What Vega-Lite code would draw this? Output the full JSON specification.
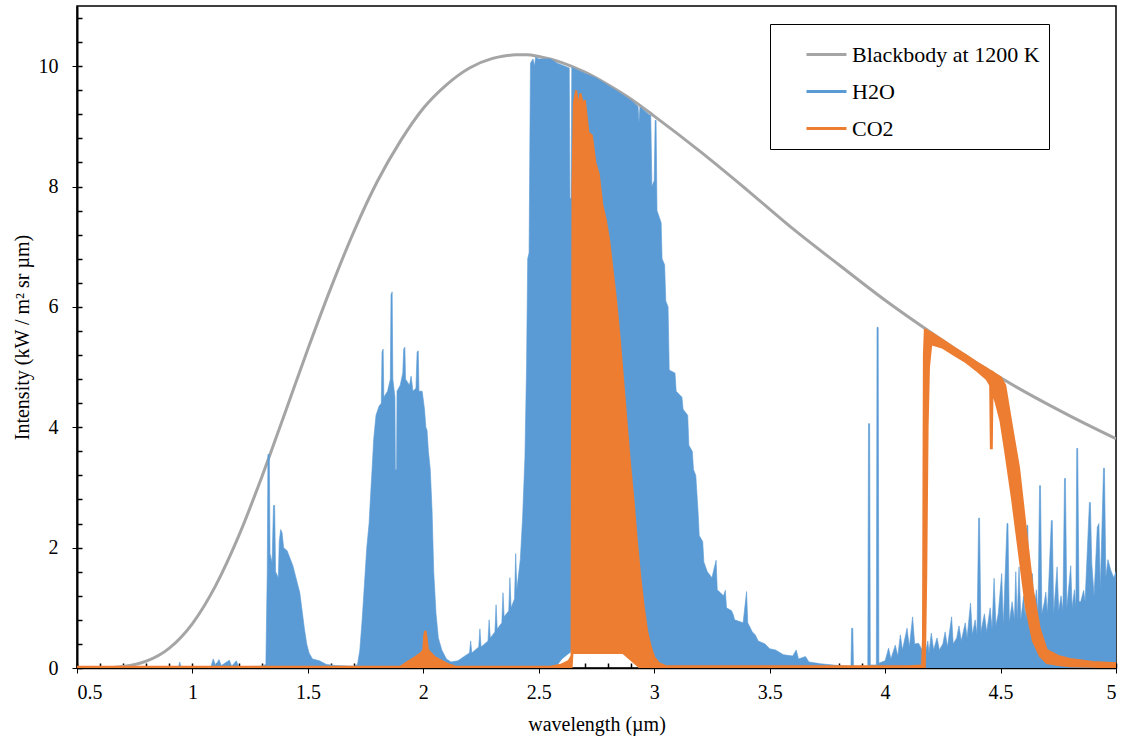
{
  "$schema": "https://vega.github.io/schema/vega-lite/v6.json",
  "width": 1039,
  "height": 662,
  "autosize": {"type": "none"},
  "padding": {"left": 77, "top": 6, "right": 6, "bottom": 74},
  "background": "white",
  "config": {
    "view": {"stroke": "black", "strokeWidth": 1.5},
    "axis": {"grid": false, "labelFont": "Liberation Serif", "titleFont": "Liberation Serif", "labelColor": "black", "titleColor": "black", "tickColor": "black", "domainColor": "black", "titleFontWeight": "normal"},
    "legend": {"labelFont": "Liberation Serif"}
  },
  "datasets": {
    "bb": [
      {"w":0.5,"v":0.0},{"w":0.6,"v":0.003},{"w":0.7,"v":0.026},{"w":0.8,"v":0.113},{"w":0.9,"v":0.331},{"w":1.0,"v":0.739},{"w":1.1,"v":1.365},{"w":1.2,"v":2.19},{"w":1.3,"v":3.17},{"w":1.4,"v":4.23},{"w":1.5,"v":5.30},{"w":1.6,"v":6.32},{"w":1.7,"v":7.26},{"w":1.8,"v":8.08},{"w":1.9,"v":8.75},{"w":2.0,"v":9.30},{"w":2.1,"v":9.69},{"w":2.2,"v":9.97},{"w":2.3,"v":10.13},{"w":2.35,"v":10.17},{"w":2.4,"v":10.19},{"w":2.45,"v":10.19},{"w":2.5,"v":10.16},{"w":2.6,"v":10.06},{"w":2.7,"v":9.90},{"w":2.8,"v":9.69},{"w":2.9,"v":9.45},{"w":3.0,"v":9.17},{"w":3.2,"v":8.58},{"w":3.4,"v":7.95},{"w":3.6,"v":7.30},{"w":3.8,"v":6.70},{"w":4.0,"v":6.11},{"w":4.2,"v":5.57},{"w":4.4,"v":5.06},{"w":4.6,"v":4.60},{"w":4.8,"v":4.19},{"w":5.0,"v":3.81}
    ],
    "h2o": [
      {"w":0.5,"h":0,"l":0},{"w":0.9,"h":0.01,"l":0},{"w":0.94,"h":0.02,"l":0},{"w":0.945,"h":0.1,"l":0},{"w":0.95,"h":0.02,"l":0},{"w":1.08,"h":0.02,"l":0},{"w":1.09,"h":0.15,"l":0},{"w":1.1,"h":0.04,"l":0},{"w":1.115,"h":0.14,"l":0},{"w":1.125,"h":0.04,"l":0},{"w":1.16,"h":0.13,"l":0},{"w":1.17,"h":0.03,"l":0},{"w":1.19,"h":0.12,"l":0},{"w":1.2,"h":0.02,"l":0},{"w":1.3,"h":0.03,"l":0},
      {"w":1.318,"h":0.06,"l":0},{"w":1.324,"h":1.6,"l":0},{"w":1.327,"h":3.55,"l":0},{"w":1.333,"h":3.55,"l":0},{"w":1.336,"h":1.9,"l":0},{"w":1.345,"h":1.75,"l":0},{"w":1.351,"h":2.7,"l":0},{"w":1.356,"h":2.7,"l":0},{"w":1.36,"h":1.6,"l":0},{"w":1.372,"h":1.5,"l":0},{"w":1.376,"h":2.1,"l":0},{"w":1.382,"h":2.3,"l":0},{"w":1.388,"h":2.25,"l":0},{"w":1.395,"h":2.0,"l":0},{"w":1.41,"h":1.95,"l":0},{"w":1.42,"h":1.85,"l":0},{"w":1.435,"h":1.7,"l":0},{"w":1.445,"h":1.55,"l":0},{"w":1.455,"h":1.4,"l":0},{"w":1.465,"h":1.25,"l":0},{"w":1.475,"h":0.95,"l":0},{"w":1.485,"h":0.65,"l":0},{"w":1.495,"h":0.4,"l":0},{"w":1.505,"h":0.25,"l":0},{"w":1.52,"h":0.15,"l":0},{"w":1.55,"h":0.12,"l":0},{"w":1.58,"h":0.06,"l":0},{"w":1.62,"h":0.04,"l":0},{"w":1.7,"h":0.03,"l":0},
      {"w":1.715,"h":0.06,"l":0},{"w":1.725,"h":0.3,"l":0},{"w":1.735,"h":0.8,"l":0},{"w":1.745,"h":1.4,"l":0},{"w":1.755,"h":2.0,"l":0},{"w":1.765,"h":2.4,"l":0},{"w":1.772,"h":2.9,"l":0},{"w":1.778,"h":3.3,"l":0},{"w":1.785,"h":3.8,"l":0},{"w":1.795,"h":4.2,"l":0},{"w":1.808,"h":4.35,"l":0},{"w":1.818,"h":4.4,"l":0},{"w":1.821,"h":5.25,"l":0},{"w":1.826,"h":5.3,"l":0},{"w":1.829,"h":4.5,"l":0},{"w":1.845,"h":4.6,"l":0},{"w":1.857,"h":4.8,"l":0},{"w":1.86,"h":6.2,"l":0},{"w":1.865,"h":6.25,"l":0},{"w":1.868,"h":4.8,"l":0},{"w":1.877,"h":4.5,"l":0},{"w":1.879,"h":3.3,"l":0},{"w":1.884,"h":3.3,"l":0},{"w":1.886,"h":4.6,"l":0},{"w":1.9,"h":4.7,"l":0},{"w":1.911,"h":4.9,"l":0},{"w":1.915,"h":5.3,"l":0},{"w":1.92,"h":5.33,"l":0},{"w":1.923,"h":4.8,"l":0},{"w":1.94,"h":4.7,"l":0},{"w":1.947,"h":4.85,"l":0},{"w":1.955,"h":4.6,"l":0},{"w":1.968,"h":4.65,"l":0},{"w":1.973,"h":5.25,"l":0},{"w":1.978,"h":5.27,"l":0},{"w":1.981,"h":4.6,"l":0},{"w":1.995,"h":4.6,"l":0},{"w":2.005,"h":4.3,"l":0},{"w":2.011,"h":4.0,"l":0},{"w":2.016,"h":3.95,"l":0},{"w":2.022,"h":3.6,"l":0},{"w":2.03,"h":3.3,"l":0},{"w":2.038,"h":2.6,"l":0},{"w":2.045,"h":1.6,"l":0},{"w":2.055,"h":0.9,"l":0},{"w":2.065,"h":0.5,"l":0},{"w":2.08,"h":0.3,"l":0},{"w":2.1,"h":0.15,"l":0},{"w":2.12,"h":0.1,"l":0},
      {"w":2.15,"h":0.12,"l":0},{"w":2.18,"h":0.2,"l":0},{"w":2.2,"h":0.25,"l":0},{"w":2.205,"h":0.45,"l":0},{"w":2.21,"h":0.25,"l":0},{"w":2.24,"h":0.35,"l":0},{"w":2.245,"h":0.65,"l":0},{"w":2.25,"h":0.35,"l":0},{"w":2.28,"h":0.45,"l":0},{"w":2.285,"h":0.8,"l":0},{"w":2.29,"h":0.5,"l":0},{"w":2.31,"h":0.6,"l":0},{"w":2.315,"h":1.05,"l":0},{"w":2.32,"h":0.65,"l":0},{"w":2.34,"h":0.75,"l":0},{"w":2.345,"h":1.25,"l":0},{"w":2.35,"h":0.85,"l":0},{"w":2.37,"h":0.95,"l":0},{"w":2.375,"h":1.5,"l":0},{"w":2.38,"h":1.0,"l":0},{"w":2.395,"h":1.15,"l":0},{"w":2.4,"h":1.9,"l":0},{"w":2.405,"h":1.3,"l":0},{"w":2.42,"h":1.8,"l":0},{"w":2.43,"h":2.5,"l":0},{"w":2.44,"h":3.5,"l":0},{"w":2.447,"h":5.0,"l":0},{"w":2.452,"h":6.8,"l":0},{"w":2.458,"h":6.9,"l":0},{"w":2.461,"h":8.5,"l":0},{"w":2.464,"h":10.05,"l":0},{"w":2.475,"h":10.12,"l":0},{"w":2.482,"h":10.0,"l":0},{"w":2.486,"h":10.15,"l":0},{"w":2.5,"h":10.12,"l":0},{"w":2.55,"h":10.12,"l":0},{"w":2.58,"h":10.05,"l":0.05},{"w":2.6,"h":10.02,"l":0.15},{"w":2.632,"h":9.97,"l":0.25},{"w":2.635,"h":7.8,"l":0.25},{"w":2.64,"h":7.8,"l":0.3},{"w":2.643,"h":9.98,"l":0.3},{"w":2.7,"h":9.88,"l":0.3},{"w":2.75,"h":9.8,"l":0.3},{"w":2.8,"h":9.68,"l":0.3},{"w":2.85,"h":9.56,"l":0.28},{"w":2.9,"h":9.43,"l":0.15},{"w":2.93,"h":9.33,"l":0.05},{"w":2.934,"h":9.05,"l":0},{"w":2.938,"h":9.32,"l":0},{"w":2.96,"h":9.25,"l":0},{"w":2.975,"h":9.2,"l":0},{"w":2.985,"h":9.18,"l":0},{"w":2.99,"h":8.0,"l":0},{"w":3.0,"h":8.1,"l":0},{"w":3.004,"h":9.1,"l":0},{"w":3.008,"h":9.1,"l":0},{"w":3.012,"h":7.6,"l":0},{"w":3.03,"h":7.4,"l":0},{"w":3.034,"h":6.8,"l":0},{"w":3.045,"h":6.7,"l":0},{"w":3.05,"h":6.1,"l":0},{"w":3.06,"h":6.0,"l":0},{"w":3.065,"h":4.95,"l":0},{"w":3.09,"h":4.9,"l":0},{"w":3.095,"h":4.6,"l":0},{"w":3.12,"h":4.5,"l":0},{"w":3.125,"h":4.3,"l":0},{"w":3.145,"h":4.2,"l":0},{"w":3.15,"h":3.7,"l":0},{"w":3.165,"h":3.6,"l":0},{"w":3.17,"h":3.3,"l":0},{"w":3.18,"h":3.2,"l":0},{"w":3.185,"h":2.9,"l":0},{"w":3.19,"h":2.59,"l":0},{"w":3.195,"h":2.2,"l":0},{"w":3.21,"h":2.1,"l":0},{"w":3.215,"h":1.76,"l":0},{"w":3.23,"h":1.6,"l":0},{"w":3.25,"h":1.5,"l":0},{"w":3.268,"h":1.79,"l":0},{"w":3.273,"h":1.3,"l":0},{"w":3.3,"h":1.2,"l":0},{"w":3.308,"h":1.29,"l":0},{"w":3.313,"h":1.0,"l":0},{"w":3.335,"h":0.95,"l":0},{"w":3.343,"h":0.88,"l":0},{"w":3.348,"h":0.8,"l":0},{"w":3.385,"h":0.75,"l":0},{"w":3.4,"h":1.27,"l":0},{"w":3.405,"h":0.75,"l":0},{"w":3.425,"h":0.6,"l":0},{"w":3.438,"h":0.55,"l":0},{"w":3.45,"h":0.45,"l":0},{"w":3.48,"h":0.4,"l":0},{"w":3.5,"h":0.32,"l":0},{"w":3.525,"h":0.3,"l":0},{"w":3.56,"h":0.22,"l":0},{"w":3.6,"h":0.2,"l":0},{"w":3.615,"h":0.3,"l":0},{"w":3.625,"h":0.15,"l":0},{"w":3.655,"h":0.19,"l":0},{"w":3.67,"h":0.1,"l":0},{"w":3.72,"h":0.07,"l":0},{"w":3.8,"h":0.04,"l":0},
      {"w":3.852,"h":0.03,"l":0},{"w":3.855,"h":0.66,"l":0},{"w":3.86,"h":0.66,"l":0},{"w":3.863,"h":0.03,"l":0},{"w":3.925,"h":0.03,"l":0},{"w":3.928,"h":4.06,"l":0},{"w":3.933,"h":4.06,"l":0},{"w":3.936,"h":0.05,"l":0},{"w":3.962,"h":0.05,"l":0},{"w":3.965,"h":5.66,"l":0},{"w":3.97,"h":5.66,"l":0},{"w":3.973,"h":0.08,"l":0},{"w":4.0,"h":0.12,"l":0},{"w":4.015,"h":0.33,"l":0},{"w":4.025,"h":0.15,"l":0},{"w":4.044,"h":0.38,"l":0},{"w":4.055,"h":0.2,"l":0},{"w":4.066,"h":0.55,"l":0},{"w":4.075,"h":0.3,"l":0},{"w":4.095,"h":0.66,"l":0},{"w":4.105,"h":0.35,"l":0},{"w":4.119,"h":0.85,"l":0},{"w":4.128,"h":0.4,"l":0},{"w":4.145,"h":0.41,"l":0},{"w":4.16,"h":0.3,"l":0},
      {"w":4.175,"h":0.25,"l":0},{"w":4.185,"h":0.45,"l":0},{"w":4.19,"h":0.25,"l":0},{"w":4.2,"h":0.58,"l":0},{"w":4.21,"h":0.3,"l":0},{"w":4.225,"h":0.5,"l":0},{"w":4.235,"h":0.3,"l":0},{"w":4.25,"h":0.4,"l":0},{"w":4.26,"h":0.6,"l":0},{"w":4.27,"h":0.35,"l":0},{"w":4.288,"h":0.85,"l":0},{"w":4.295,"h":0.4,"l":0},{"w":4.31,"h":0.5,"l":0},{"w":4.32,"h":0.7,"l":0},{"w":4.33,"h":0.45,"l":0},{"w":4.347,"h":0.75,"l":0},{"w":4.355,"h":0.5,"l":0},{"w":4.37,"h":1.08,"l":0},{"w":4.378,"h":0.55,"l":0},{"w":4.39,"h":0.8,"l":0},{"w":4.398,"h":0.55,"l":0},{"w":4.405,"h":2.49,"l":0},{"w":4.409,"h":2.49,"l":0},{"w":4.415,"h":0.6,"l":0},{"w":4.43,"h":0.9,"l":0},{"w":4.44,"h":0.6,"l":0},{"w":4.455,"h":1.0,"l":0},{"w":4.463,"h":0.65,"l":0},{"w":4.472,"h":1.49,"l":0},{"w":4.48,"h":0.7,"l":0},{"w":4.49,"h":0.9,"l":0},{"w":4.505,"h":1.57,"l":0},{"w":4.512,"h":0.7,"l":0},{"w":4.528,"h":2.4,"l":0},{"w":4.532,"h":2.4,"l":0},{"w":4.538,"h":0.75,"l":0},{"w":4.55,"h":1.1,"l":0},{"w":4.56,"h":0.8,"l":0},{"w":4.566,"h":1.6,"l":0},{"w":4.572,"h":0.8,"l":0},{"w":4.58,"h":1.68,"l":0},{"w":4.588,"h":0.8,"l":0},{"w":4.6,"h":1.2,"l":0},{"w":4.608,"h":0.8,"l":0},{"w":4.614,"h":2.37,"l":0},{"w":4.618,"h":2.37,"l":0},{"w":4.624,"h":0.85,"l":0},{"w":4.638,"h":1.57,"l":0},{"w":4.645,"h":0.9,"l":0},{"w":4.655,"h":1.3,"l":0},{"w":4.662,"h":0.9,"l":0},{"w":4.669,"h":3.03,"l":0},{"w":4.673,"h":3.03,"l":0},{"w":4.679,"h":0.9,"l":0},{"w":4.69,"h":1.1,"l":0},{"w":4.696,"h":1.26,"l":0},{"w":4.703,"h":0.9,"l":0},{"w":4.72,"h":2.45,"l":0},{"w":4.724,"h":2.45,"l":0},{"w":4.73,"h":0.9,"l":0},{"w":4.745,"h":1.68,"l":0},{"w":4.752,"h":0.95,"l":0},{"w":4.762,"h":1.2,"l":0},{"w":4.77,"h":0.95,"l":0},{"w":4.777,"h":3.15,"l":0},{"w":4.781,"h":3.15,"l":0},{"w":4.787,"h":1.0,"l":0},{"w":4.804,"h":1.7,"l":0},{"w":4.81,"h":1.0,"l":0},{"w":4.82,"h":1.3,"l":0},{"w":4.826,"h":1.0,"l":0},{"w":4.83,"h":3.65,"l":0},{"w":4.834,"h":3.65,"l":0},{"w":4.84,"h":1.1,"l":0},{"w":4.847,"h":1.1,"l":0},{"w":4.86,"h":1.29,"l":0},{"w":4.866,"h":1.1,"l":0},{"w":4.885,"h":2.75,"l":0},{"w":4.889,"h":2.75,"l":0},{"w":4.895,"h":1.74,"l":0},{"w":4.905,"h":1.2,"l":0},{"w":4.919,"h":2.34,"l":0},{"w":4.926,"h":2.4,"l":0},{"w":4.932,"h":1.3,"l":0},{"w":4.946,"h":3.32,"l":0},{"w":4.95,"h":3.32,"l":0},{"w":4.956,"h":1.5,"l":0},{"w":4.965,"h":1.8,"l":0},{"w":4.977,"h":1.63,"l":0},{"w":4.99,"h":1.5,"l":0},{"w":5.0,"h":1.6,"l":0}
    ],
    "co2": [
      {"w":0.5,"h":0.02,"l":0},{"w":1.9,"h":0.02,"l":0},{"w":1.93,"h":0.1,"l":0},{"w":1.96,"h":0.17,"l":0},{"w":1.99,"h":0.25,"l":0},{"w":2.0,"h":0.3,"l":0},{"w":2.004,"h":0.55,"l":0},{"w":2.009,"h":0.62,"l":0},{"w":2.014,"h":0.5,"l":0},{"w":2.02,"h":0.3,"l":0},{"w":2.05,"h":0.18,"l":0},{"w":2.08,"h":0.12,"l":0},{"w":2.11,"h":0.06,"l":0},{"w":2.14,"h":0.02,"l":0},{"w":2.55,"h":0.02,"l":0},{"w":2.6,"h":0.06,"l":0},{"w":2.63,"h":0.12,"l":0},{"w":2.642,"h":0.2,"l":0},
      {"w":2.646,"h":8.0,"l":0.25},{"w":2.652,"h":9.4,"l":0.25},{"w":2.662,"h":9.6,"l":0.25},{"w":2.672,"h":9.3,"l":0.25},{"w":2.68,"h":9.55,"l":0.25},{"w":2.69,"h":9.4,"l":0.25},{"w":2.7,"h":9.42,"l":0.25},{"w":2.715,"h":8.9,"l":0.25},{"w":2.73,"h":8.85,"l":0.25},{"w":2.745,"h":8.4,"l":0.25},{"w":2.76,"h":8.2,"l":0.25},{"w":2.775,"h":7.7,"l":0.25},{"w":2.79,"h":7.45,"l":0.25},{"w":2.805,"h":7.1,"l":0.25},{"w":2.82,"h":6.6,"l":0.25},{"w":2.835,"h":6.1,"l":0.25},{"w":2.85,"h":5.5,"l":0.25},{"w":2.865,"h":4.8,"l":0.25},{"w":2.88,"h":4.1,"l":0.2},{"w":2.895,"h":3.4,"l":0.15},{"w":2.91,"h":2.8,"l":0.1},{"w":2.925,"h":2.1,"l":0.05},{"w":2.94,"h":1.5,"l":0},{"w":2.955,"h":1.0,"l":0},{"w":2.97,"h":0.6,"l":0},{"w":2.985,"h":0.35,"l":0},{"w":3.0,"h":0.18,"l":0},{"w":3.02,"h":0.08,"l":0},{"w":3.05,"h":0.03,"l":0},
      {"w":4.1,"h":0.03,"l":0},{"w":4.16,"h":0.04,"l":0},{"w":4.164,"h":0.5,"l":0},{"w":4.168,"h":5.2,"l":0},{"w":4.172,"h":5.62,"l":0},{"w":4.178,"h":5.62,"l":1.5},{"w":4.184,"h":5.6,"l":4.0},{"w":4.19,"h":5.59,"l":5.0},{"w":4.2,"h":5.57,"l":5.38},{"w":4.25,"h":5.45,"l":5.32},{"w":4.3,"h":5.32,"l":5.2},{"w":4.35,"h":5.2,"l":5.08},{"w":4.4,"h":5.07,"l":4.93},{"w":4.44,"h":4.98,"l":4.8},{"w":4.455,"h":4.94,"l":4.7},{"w":4.458,"h":4.93,"l":3.65},{"w":4.462,"h":4.93,"l":3.65},{"w":4.465,"h":4.92,"l":4.6},{"w":4.48,"h":4.88,"l":4.4},{"w":4.5,"h":4.83,"l":4.1},{"w":4.52,"h":4.7,"l":3.6},{"w":4.55,"h":4.0,"l":2.8},{"w":4.58,"h":3.33,"l":1.9},{"w":4.61,"h":2.3,"l":1.0},{"w":4.64,"h":1.3,"l":0.45},{"w":4.67,"h":0.65,"l":0.2},{"w":4.7,"h":0.3,"l":0.08},{"w":4.75,"h":0.2,"l":0.05},{"w":4.8,"h":0.15,"l":0.03},{"w":4.9,"h":0.1,"l":0.02},{"w":5.0,"h":0.08,"l":0}
    ]
  },
  "resolve": {"axis": {"x": "independent", "y": "independent"}},
  "layer": [
    {
      "data": {"name": "bb"},
      "mark": {"type": "line", "strokeWidth": 3, "interpolate": "monotone", "clip": true},
      "encoding": {
        "x": {"field": "w", "type": "quantitative", "scale": {"domain": [0.5, 5], "nice": false, "zero": false},
          "axis": {"orient": "bottom", "values": [0.5,1,1.5,2,2.5,3,3.5,4,4.5,5], "format": "~g", "title": "wavelength (µm)", "tickSize": 5, "domainWidth": 1.5, "labelFont": "Liberation Serif", "titleFont": "Liberation Serif", "labelFontSize": 20, "titleFontSize": 20, "labelPadding": 9, "titlePadding": 12}},
        "y": {"field": "v", "type": "quantitative", "scale": {"domain": [0, 11], "nice": false},
          "axis": {"orient": "left", "values": [0,2,4,6,8,10], "format": "d", "title": "Intensity (kW / m² sr µm)", "tickSize": 5, "domainWidth": 2, "labelFont": "Liberation Serif", "titleFont": "Liberation Serif", "labelFontSize": 20, "titleFontSize": 20, "labelPadding": 14, "titlePadding": 6}},
        "color": {"datum": "Blackbody at 1200 K", "type": "nominal",
          "scale": {"domain": ["Blackbody at 1200 K", "H2O", "CO2"], "range": ["#A5A5A5", "#5B9BD5", "#ED7D31"]},
          "legend": {"title": null, "orient": "none", "legendX": 693, "legendY": 18, "symbolType": "stroke", "symbolSize": 1600, "symbolStrokeWidth": 3, "labelFont": "Liberation Serif", "labelFontSize": 22, "labelColor": "black", "strokeColor": "black", "fillColor": "white", "padding": 9, "rowPadding": 4, "symbolOffset": 26, "labelOffset": 4, "labelLimit": 400}}
      }
    },
    {
      "data": {"name": "h2o"},
      "mark": {"type": "area", "stroke": "#5B9BD5", "strokeWidth": 0.6, "clip": true},
      "encoding": {
        "x": {"field": "w", "type": "quantitative",
          "axis": {"orient": "bottom", "values": [0.5,0.6,0.7,0.8,0.9,1,1.1,1.2,1.3,1.4,1.5,1.6,1.7,1.8,1.9,2,2.1,2.2,2.3,2.4,2.5,2.6,2.7,2.8,2.9,3,3.1,3.2,3.3,3.4,3.5,3.6,3.7,3.8,3.9,4,4.1,4.2,4.3,4.4,4.5,4.6,4.7,4.8,4.9,5], "labels": false, "domain": false, "title": null, "tickSize": -5, "tickWidth": 1.5}},
        "y": {"field": "h", "type": "quantitative",
          "axis": {"orient": "left", "values": [0,0.4,0.8,1.2,1.6,2,2.4,2.8,3.2,3.6,4,4.4,4.8,5.2,5.6,6,6.4,6.8,7.2,7.6,8,8.4,8.8,9.2,9.6,10,10.4,10.8], "labels": false, "domain": false, "title": null, "tickSize": -5, "tickWidth": 1.5}},
        "y2": {"field": "l"},
        "color": {"datum": "H2O", "type": "nominal"}
      }
    },
    {
      "data": {"name": "co2"},
      "mark": {"type": "area", "stroke": "#ED7D31", "strokeWidth": 2, "clip": true},
      "encoding": {
        "x": {"field": "w", "type": "quantitative", "axis": null},
        "y": {"field": "h", "type": "quantitative", "axis": null},
        "y2": {"field": "l"},
        "color": {"datum": "CO2", "type": "nominal"}
      }
    }
  ]
}
